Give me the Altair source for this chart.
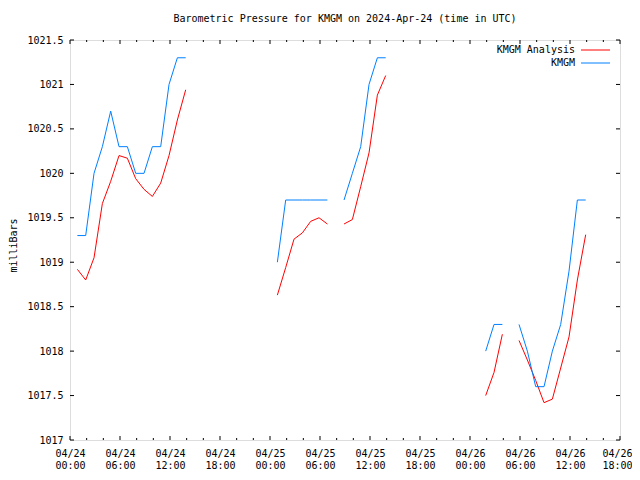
import altair as alt
import pandas as pd

MONO = "DejaVu Sans Mono"

times = [
    "2024-04-24 00:53", "2024-04-24 01:53", "2024-04-24 02:53", "2024-04-24 03:53",
    "2024-04-24 04:53", "2024-04-24 05:53", "2024-04-24 06:53", "2024-04-24 07:53",
    "2024-04-24 08:53", "2024-04-24 09:53", "2024-04-24 10:53", "2024-04-24 11:53",
    "2024-04-24 12:53", "2024-04-24 13:53",
    "2024-04-25 00:53", "2024-04-25 01:53", "2024-04-25 02:53", "2024-04-25 03:53",
    "2024-04-25 04:53", "2024-04-25 05:53", "2024-04-25 06:53",
    "2024-04-25 08:53", "2024-04-25 09:53", "2024-04-25 10:53", "2024-04-25 11:53",
    "2024-04-25 12:53", "2024-04-25 13:53",
    "2024-04-26 01:53", "2024-04-26 02:53", "2024-04-26 03:53",
    "2024-04-26 05:53", "2024-04-26 06:53", "2024-04-26 07:53", "2024-04-26 08:53",
    "2024-04-26 09:53", "2024-04-26 10:53", "2024-04-26 11:53", "2024-04-26 12:53",
    "2024-04-26 13:53",
]

analysis = [
    1018.92, 1018.80, 1019.05, 1019.66, 1019.91, 1020.20, 1020.17, 1019.94,
    1019.82, 1019.74, 1019.89, 1020.20, 1020.60, 1020.94,
    1018.63, 1018.94, 1019.26, 1019.33, 1019.46, 1019.50, 1019.43,
    1019.43, 1019.48, 1019.85, 1020.23, 1020.88, 1021.10,
    1017.50, 1017.76, 1018.19,
    1018.12, 1017.90, 1017.67, 1017.42, 1017.46, 1017.81, 1018.16, 1018.80, 1019.31,
]

kmgm = [
    1019.3, 1019.3, 1020.0, 1020.3, 1020.7, 1020.3, 1020.3, 1020.0,
    1020.0, 1020.3, 1020.3, 1021.0, 1021.3, 1021.3,
    1019.0, 1019.7, 1019.7, 1019.7, 1019.7, 1019.7, 1019.7,
    1019.7, 1020.0, 1020.3, 1021.0, 1021.3, 1021.3,
    1018.0, 1018.3, 1018.3,
    1018.3, 1018.0, 1017.6, 1017.6, 1018.0, 1018.3, 1018.9, 1019.7, 1019.7,
]

series_names = ["KMGM Analysis", "KMGM"]
series_colors = ["#ff0000", "#0080ff"]

x_major = [0, 6, 12, 18, 24, 30, 36, 42, 48, 54, 60, 66]
x_minor = [2, 4, 8, 10, 14, 16, 20, 22, 26, 28, 32, 34, 38, 40, 44, 46, 50, 52, 56, 58, 62, 64]
y_ticks = [1017, 1017.5, 1018, 1018.5, 1019, 1019.5, 1020, 1020.5, 1021, 1021.5]

title_text = "Barometric Pressure for KMGM on 2024-Apr-24 (time in UTC)"

# ---- build table ----
t = pd.to_datetime(pd.Series(times))
h = (t - pd.Timestamp("2024-04-24 00:00")) / pd.Timedelta(hours=1)
seg = (h.diff() > 1.5).cumsum()
frames = []
for name, vals in zip(series_names, [analysis, kmgm]):
    frames.append(pd.DataFrame({"h": h, "p": vals, "series": name,
                                "key": [f"{name}-{s}" for s in seg]}))
df = pd.concat(frames, ignore_index=True)

W, H = 550, 400

xscale = alt.Scale(domain=[0, 66], nice=False, zero=False)
yscale = alt.Scale(domain=[1017, 1021.5], nice=False, zero=False)
cscale = alt.Scale(domain=series_names, range=series_colors)

xaxis = alt.Axis(
    values=x_major, ticks=False, tickSize=0, domain=False, grid=False,
    labelExpr="['04/' + (24 + floor(datum.value / 24)), (datum.value % 24 < 10 ? '0' : '') + (datum.value % 24) + ':00']",
    labelFont=MONO, labelFontSize=10, labelLineHeight=12, labelPadding=8,
    labelFlush=False, labelOverlap=False, labelBound=False, labelColor="black",
    labelOffset={"condition": {"test": "datum.value == 66", "value": -3}, "value": 0},
    title=None,
)
yaxis = alt.Axis(
    values=y_ticks, format=".1~f", ticks=False, tickSize=0, domain=False, grid=False,
    labelFont=MONO, labelFontSize=10, labelPadding=7, labelColor="black",
    title="milliBars", titleFont=MONO, titleFontSize=10, titleFontWeight="normal",
    titleColor="black", titleAngle=270, titleX=-57, titleY=205,
    titleAlign="center", titleBaseline="middle",
)

X = alt.X("h:Q", scale=xscale, axis=xaxis)
Y = alt.Y("p:Q", scale=yscale, axis=yaxis)

lines = alt.Chart(df).mark_line(strokeWidth=1, clip=True).encode(
    x=X, y=Y,
    color=alt.Color("series:N", scale=cscale, legend=None),
    detail="key:N",
)

def xticks(vals, y0, y1):
    return alt.Chart(pd.DataFrame({"h": vals})).mark_rule(color="black", strokeWidth=1).encode(
        x=X, y=alt.value(y0), y2=alt.value(y1))

def yticks(vals, x0, x1):
    return alt.Chart(pd.DataFrame({"p": vals})).mark_rule(color="black", strokeWidth=1).encode(
        y=Y, x=alt.value(x0), x2=alt.value(x1))

ticks = [
    xticks(x_major, H, H - 4), xticks(x_minor, H, H - 2),
    xticks(x_major, 0, 4), xticks(x_minor, 0, 2),
    yticks(y_ticks, 0, 4), yticks(y_ticks, W, W - 4),
]

legend_layers = []
for i, name in enumerate(series_names):
    ld = pd.DataFrame({"series": [name]})
    yy = 10 + 13 * i
    legend_layers.append(
        alt.Chart(ld).mark_text(align="right", baseline="middle", font=MONO, fontSize=10,
                                color="black").encode(
            x=alt.value(505), y=alt.value(yy), text="series:N"))
    legend_layers.append(
        alt.Chart(ld).mark_rule(strokeWidth=1).encode(
            x=alt.value(511), x2=alt.value(540), y=alt.value(yy),
            color=alt.Color("series:N", scale=cscale, legend=None)))

chart = alt.layer(lines, *ticks, *legend_layers).properties(
    width=W, height=H,
    title=alt.TitleParams(title_text, font=MONO, fontSize=10, fontWeight="normal",
                          color="black", anchor="middle", frame="group",
                          baseline="alphabetic", offset=3),
    padding={"left": 62, "top": 32, "right": 12, "bottom": 36},
    autosize=alt.AutoSizeParams(type="none"),
).configure_view(stroke="black", strokeWidth=1).configure(background="white")

chart.save("out.html", embed_options={"renderer": "svg", "actions": False})
